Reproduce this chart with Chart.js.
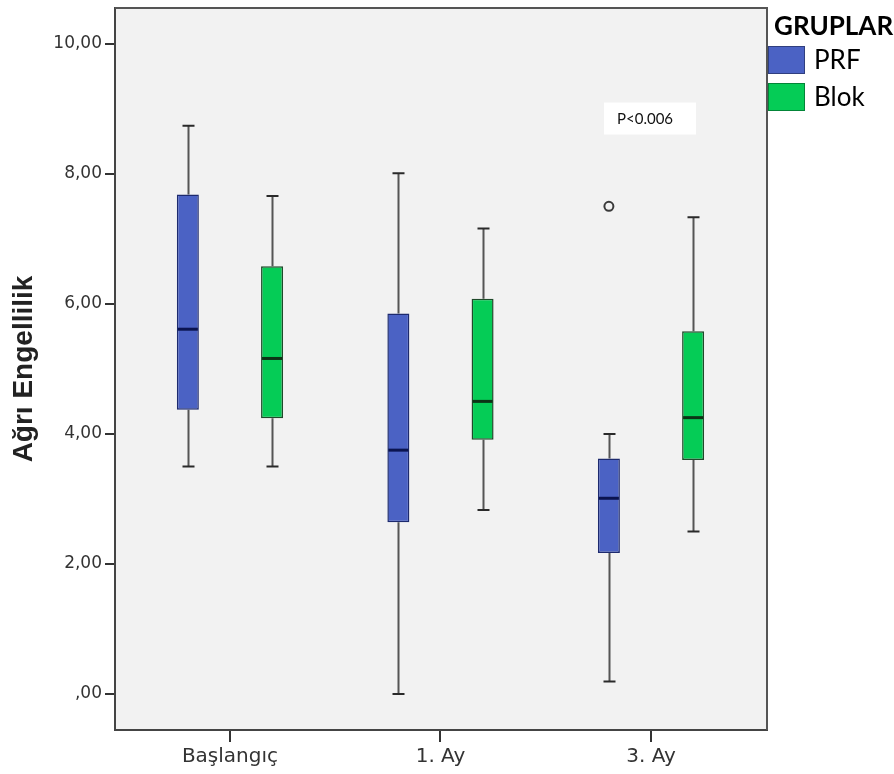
<!DOCTYPE html>
<html>
<head>
<meta charset="utf-8">
<script src="https://cdn.jsdelivr.net/npm/chart.js@4/dist/chart.umd.min.js"></script>
<style>
  html, body { margin: 0; padding: 0; background: #ffffff; }
  #wrap { width: 894px; height: 774px; }
</style>
</head>
<body>
<div id="wrap"><canvas id="c" width="894" height="774"></canvas></div>
<script>
// ---- data ----
const categories = ['Başlangıç', '1. Ay', '3. Ay'];
const seriesNames = ['PRF', 'Blok'];

const prfMin    = [3.50, 0.00, 0.19];
const prfQ1     = [4.37, 2.64, 2.17];
const prfMedian = [5.61, 3.75, 3.01];
const prfQ3     = [7.68, 5.85, 3.62];
const prfMax    = [8.74, 8.01, 4.00];
const prfOutliers = [[], [], [7.50]];

const blokMin    = [3.50, 2.83, 2.50];
const blokQ1     = [4.24, 3.91, 3.60];
const blokMedian = [5.16, 4.50, 4.25];
const blokQ3     = [6.58, 6.08, 5.58];
const blokMax    = [7.66, 7.16, 7.33];
const blokOutliers = [[], [], []];

const yTickValues = [0, 2, 4, 6, 8, 10];
const yTickLabels = [',00', '2,00', '4,00', '6,00', '8,00', '10,00'];
const yTitle = 'Ağrı Engellilik';
const legendTitle = 'GRUPLAR';
const pNoteText = 'P<0.006';
const pNoteCategory = 2;
const pNoteValue = 8.85;

// ---- styles ----
const fills   = ['#4b62c4', '#05cc56'];
const borders = ['#1d2a6e', '#1f4a2a'];
const medianColors = ['#0b1450', '#0c3316'];

function makeSet(name, q1, q3, mn, md, mx, outl, k) {
  return {
    label: name,
    data: categories.map((c, i) => ({ x: i, y: [q1[i], q3[i]] })),
    stats: { min: mn, median: md, max: mx, outliers: outl },
    backgroundColor: fills[k],
    borderColor: borders[k],
    borderWidth: 1.5,
    borderSkipped: false,
    categoryPercentage: 0.8,
    barPercentage: 0.2613
  };
}

const datasets = [
  makeSet(seriesNames[0], prfQ1, prfQ3, prfMin, prfMedian, prfMax, prfOutliers, 0),
  makeSet(seriesNames[1], blokQ1, blokQ3, blokMin, blokMedian, blokMax, blokOutliers, 1)
];

const boxPlugin = {
  id: 'boxParts',
  beforeDraw(chart) {
    const { ctx, chartArea: a } = chart;
    ctx.save();
    ctx.fillStyle = '#f2f2f2';
    ctx.fillRect(a.left, a.top, a.right - a.left, a.bottom - a.top);
    ctx.restore();
  },
  beforeDatasetsDraw(chart) {
    const { ctx } = chart;
    const ys = chart.scales.y;
    ctx.save();
    chart.data.datasets.forEach((ds, d) => {
      const meta = chart.getDatasetMeta(d);
      meta.data.forEach((el, i) => {
        const x = Math.round(el.x) + 0.5;
        const yMin = ys.getPixelForValue(ds.stats.min[i]);
        const yMax = ys.getPixelForValue(ds.stats.max[i]);
        const yQ1 = ys.getPixelForValue(ds.data[i].y[0]);
        const yQ3 = ys.getPixelForValue(ds.data[i].y[1]);
        ctx.strokeStyle = '#555555';
        ctx.lineWidth = 2;
        ctx.beginPath();
        ctx.moveTo(x, yMax); ctx.lineTo(x, yQ3);
        ctx.moveTo(x, yQ1); ctx.lineTo(x, yMin);
        ctx.stroke();
        ctx.strokeStyle = '#2a2a2a';
        ctx.lineWidth = 2;
        ctx.beginPath();
        ctx.moveTo(x - 6, yMax); ctx.lineTo(x + 6, yMax);
        ctx.moveTo(x - 6, yMin); ctx.lineTo(x + 6, yMin);
        ctx.stroke();
      });
    });
    ctx.restore();
  },
  afterDatasetsDraw(chart) {
    const { ctx } = chart;
    const ys = chart.scales.y;
    ctx.save();
    chart.data.datasets.forEach((ds, d) => {
      const meta = chart.getDatasetMeta(d);
      meta.data.forEach((el, i) => {
        const yM = ys.getPixelForValue(ds.stats.median[i]);
        ctx.strokeStyle = medianColors[d];
        ctx.lineWidth = 3;
        ctx.beginPath();
        ctx.moveTo(el.x - el.width / 2 + 1, yM);
        ctx.lineTo(el.x + el.width / 2 - 1, yM);
        ctx.stroke();
        ds.stats.outliers[i].forEach(v => {
          const yo = ys.getPixelForValue(v);
          ctx.strokeStyle = '#3a3a3a';
          ctx.lineWidth = 2;
          ctx.beginPath();
          ctx.arc(el.x, yo, 4.5, 0, Math.PI * 2);
          ctx.stroke();
        });
      });
    });
    ctx.restore();
  },
  afterDraw(chart) {
    const { ctx, chartArea: a } = chart;
    const xs = chart.scales.x, ys = chart.scales.y;
    ctx.save();
    // frame top & right
    ctx.strokeStyle = '#555555';
    ctx.lineWidth = 2;
    ctx.beginPath();
    ctx.moveTo(a.left, a.top); ctx.lineTo(a.right, a.top); ctx.lineTo(a.right, a.bottom);
    ctx.stroke();
    // p-value note
    const px = xs.getPixelForValue(pNoteCategory);
    const py = ys.getPixelForValue(pNoteValue);
    ctx.fillStyle = '#ffffff';
    ctx.fillRect(px - 47, py - 16, 92, 32);
    ctx.fillStyle = '#111111';
    ctx.font = '15px Lato';
    ctx.textBaseline = 'middle';
    ctx.textAlign = 'left';
    ctx.fillText(pNoteText, px - 34, py + 1);
    // legend
    ctx.font = 'bold 26px Lato';
    ctx.textBaseline = 'alphabetic';
    ctx.fillStyle = '#000000';
    ctx.fillText(legendTitle, 774, 35);
    chart.data.datasets.forEach((ds, d) => {
      const top = 46 + d * 37;
      ctx.fillStyle = ds.backgroundColor;
      ctx.fillRect(768, top, 37, 28);
      ctx.strokeStyle = 'rgba(0,0,0,0.35)';
      ctx.lineWidth = 1;
      ctx.strokeRect(768.5, top + 0.5, 36, 27);
      ctx.fillStyle = '#000000';
      ctx.font = '26px Lato';
      ctx.textBaseline = 'middle';
      ctx.fillText(ds.label, 814, top + 15);
    });
    ctx.restore();
  }
};

new Chart(document.getElementById('c'), {
  type: 'bar',
  data: { datasets },
  options: {
    responsive: false,
    animation: false,
    events: [],
    layout: { padding: { top: 8, right: 127, left: 0, bottom: 0 } },
    plugins: { legend: { display: false }, tooltip: { enabled: false } },
    scales: {
      x: {
        type: 'linear',
        offset: false,
        min: -0.546,
        max: 2.551,
        afterBuildTicks(s) { s.ticks = categories.map((c, i) => ({ value: i })); },
        afterFit(s) { s.height = 44; s.paddingLeft = 0; s.paddingRight = 0; },
        ticks: {
          callback: (v) => categories[v],
          font: { family: 'DejaVu Sans', size: 20 },
          color: '#333333',
          padding: 3,
          maxRotation: 0,
          autoSkip: false
        },
        grid: { offset: false, drawOnChartArea: false, drawTicks: true, tickLength: 12, color: '#333333', lineWidth: 2 },
        border: { display: true, color: '#444444', width: 2 }
      },
      y: {
        type: 'linear',
        min: -0.554,
        max: 10.55,
        afterBuildTicks(s) { s.ticks = yTickValues.map(v => ({ value: v })); },
        afterFit(s) { s.width = 115; s.paddingTop = 0; s.paddingBottom = 0; },
        ticks: {
          callback: (v) => yTickLabels[yTickValues.indexOf(v)],
          font: { family: 'DejaVu Sans', size: 17 },
          color: '#333333',
          padding: 3
        },
        grid: { drawOnChartArea: false, drawTicks: true, tickLength: 10, color: '#333333', lineWidth: 2 },
        border: { display: true, color: '#444444', width: 2 },
        title: {
          display: true,
          text: yTitle,
          font: { family: 'Liberation Sans', size: 28, weight: 'bold' },
          color: '#222222',
          padding: { top: 7, bottom: 0 }
        }
      }
    }
  },
  plugins: [boxPlugin]
});
</script>
</body>
</html>
